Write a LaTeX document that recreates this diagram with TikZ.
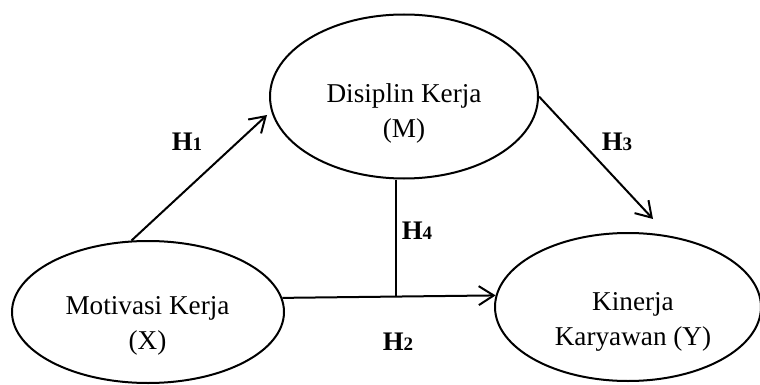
\documentclass[tikz,border=0pt]{standalone}
\usepackage{fontspec}
\setmainfont{Liberation Serif}
\usetikzlibrary{shapes.geometric,arrows.meta}
\begin{document}
\begin{tikzpicture}[x=0.5pt,y=-0.5pt,
  oval/.style={draw,ellipse,line width=1pt,inner sep=0pt},
  lbl/.style={align=center,font=\fontsize{13.6}{17.5}\selectfont,inner sep=0pt},
  hyp/.style={font=\fontsize{13.4}{14}\selectfont\bfseries,inner sep=0pt},
  link/.style={line width=1pt},
  arr/.style={line width=1pt,-{Straight Barb[length=7.5pt,width=9.5pt,line width=1pt]}}]
\useasboundingbox (0,0) rectangle (760,385);
% ellipses
\node[oval,minimum width=134pt,minimum height=82pt] (m) at (404,96.5) {};
\node[oval,minimum width=136pt,minimum height=71pt] (x) at (148,312) {};
\node[oval,minimum width=133pt,minimum height=74pt] (y) at (628,307) {};
% texts
\node[lbl] (mt) at (404,113) {Disiplin Kerja\\(M)};
\node[lbl] (xt) at (147.5,326) {Motivasi Kerja\\(X)};
\node[lbl] (yt) at (633,322) {Kinerja\\Karyawan (Y)};
% connectors
\coordinate (h1end) at (267,115);
\coordinate (h3end) at (653,219);
\coordinate (j) at (396,297);
\draw[arr] (x.103.6) -- (h1end);
\draw[arr] (m.east) -- (h3end);
\draw[arr] (x.6.4) -- (y.175.7);
\draw[link] (j |- m.south) -- (j);
% hypothesis labels
\node[hyp] (h1) at (187,142) {H{\fontsize{9.5}{10}\selectfont 1}};
\node[hyp] (h3) at (617,142) {H{\fontsize{9.5}{10}\selectfont 3}};
\node[hyp] (h4) at (417,231) {H{\fontsize{9.5}{10}\selectfont 4}};
\node[hyp] (h2) at (398,342) {H{\fontsize{9.5}{10}\selectfont 2}};
\end{tikzpicture}
\end{document}
